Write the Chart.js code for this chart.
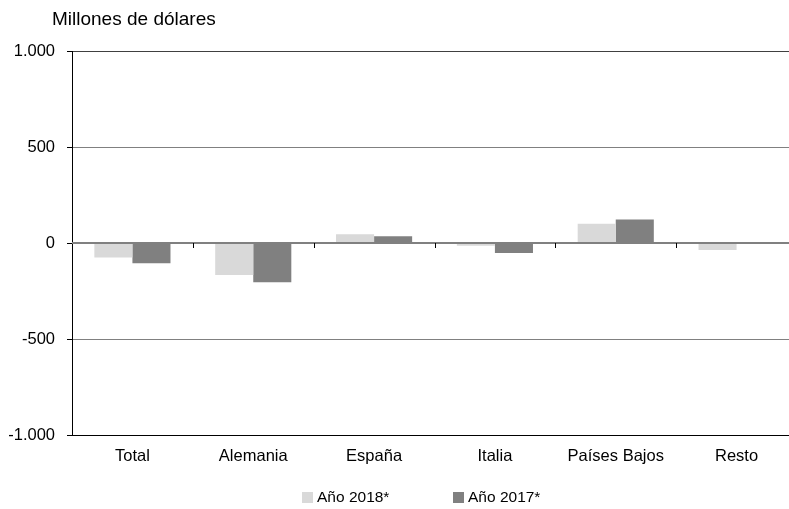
<!DOCTYPE html>
<html>
<head>
<meta charset="utf-8">
<script src="https://cdn.jsdelivr.net/npm/chart.js@4.4.1/dist/chart.umd.min.js"></script>
<style>
html, body { margin:0; padding:0; overflow:hidden; background:#fff; width:789px; height:509px; }
#wrap { position:relative; width:800px; height:509px; }
#c { position:absolute; left:0; top:0; }
#title { position:absolute; left:52px; top:8px; font-family:"Liberation Sans", Arial, sans-serif; font-size:19px; color:#000; white-space:nowrap; }
.leg { position:absolute; top:488px; font-family:"Liberation Sans", Arial, sans-serif; font-size:15.5px; color:#000; white-space:nowrap; line-height:18px; }
.leg i { display:inline-block; width:11px; height:11px; margin-right:4px; vertical-align:-1px; }
</style>
</head>
<body>
<div id="wrap">
<canvas id="c" width="800" height="509" style="width:800px;height:509px"></canvas>
<div id="title">Millones de dólares</div>
<div class="leg" style="left:302px"><i style="background:#d9d9d9"></i>Año 2018*</div>
<div class="leg" style="left:453px"><i style="background:#808080"></i>Año 2017*</div>
</div>
<script>
const categories = ["Total", "Alemania", "España", "Italia", "Países Bajos", "Resto"];
const seriesNames = ["Año 2018*", "Año 2017*"];
const values2018 = [-75, -167, 45, -14, 100, -36];
const values2017 = [-106, -205, 35, -52, 122, -4];
const yTicks = [-1000, -500, 0, 500, 1000];

function fmt(v) {
  const s = Math.abs(v).toString().replace(/\B(?=(\d{3})+(?!\d))/g, ".");
  return (v < 0 ? "-" : "") + s;
}

const zeroPlugin = {
  id: "zeroLine",
  afterDatasetsDraw(chart) {
    const ctx = chart.ctx, x = chart.scales.x, y = chart.scales.y;
    const y0 = y.getPixelForValue(0);
    const a = chart.chartArea;
    ctx.save();
    ctx.strokeStyle = "#808080";
    ctx.lineWidth = 2;
    ctx.beginPath();
    ctx.moveTo(a.left, y0);
    ctx.lineTo(a.right, y0);
    ctx.stroke();
    const half = (x.getPixelForValue(1) - x.getPixelForValue(0)) / 2;
    ctx.strokeStyle = "#000";
    ctx.lineWidth = 1;
    for (let i = 1; i <= categories.length; i++) {
      const px = Math.round(x.getPixelForValue(i) - half) + 0.5;
      ctx.beginPath();
      ctx.moveTo(px, y0);
      ctx.lineTo(px, y0 + 5);
      ctx.stroke();
    }
    ctx.restore();
  }
};

const tickFont = { family: "'Liberation Sans', Arial, sans-serif", size: 16.5 };

new Chart(document.getElementById("c"), {
  type: "bar",
  data: {
    labels: categories,
    datasets: [
      { label: seriesNames[0], data: values2018, backgroundColor: "#d9d9d9", borderWidth: 0 },
      { label: seriesNames[1], data: values2017, backgroundColor: "#808080", borderWidth: 0 }
    ]
  },
  options: {
    responsive: false,
    animation: false,
    devicePixelRatio: 1,
    datasets: { bar: { categoryPercentage: 0.63, barPercentage: 1 } },
    layout: { padding: { top: 51, right: 3, bottom: 34, left: 0 } },
    plugins: { legend: { display: false }, tooltip: { enabled: false }, title: { display: false } },
    scales: {
      x: {
        offset: true,
        grid: { display: false, drawTicks: false },
        border: { display: true, color: "#000", width: 1 },
        ticks: { color: "#000", padding: 12, font: tickFont },
        afterFit(s) { s.height = 40; }
      },
      y: {
        min: -1000, max: 1000,
        afterBuildTicks(s) { s.ticks = yTicks.map(v => ({ value: v })); },
        grid: {
          color(ctx) {
            const v = ctx.tick && ctx.tick.value;
            if (v === 0) return "rgba(0,0,0,0)";
            if (v === 1000) return "#404040";
            if (v === -1000) return "#000";
            return "#808080";
          },
          lineWidth: 1,
          tickLength: 5,
          tickColor: "#000"
        },
        border: { display: true, color: "#000", width: 1 },
        ticks: {
          color: "#000", padding: 12,
          font: tickFont,
          callback: (v) => fmt(v)
        },
        afterFit(s) { s.width = 72; }
      }
    }
  },
  plugins: [zeroPlugin]
});
</script>
</body>
</html>
